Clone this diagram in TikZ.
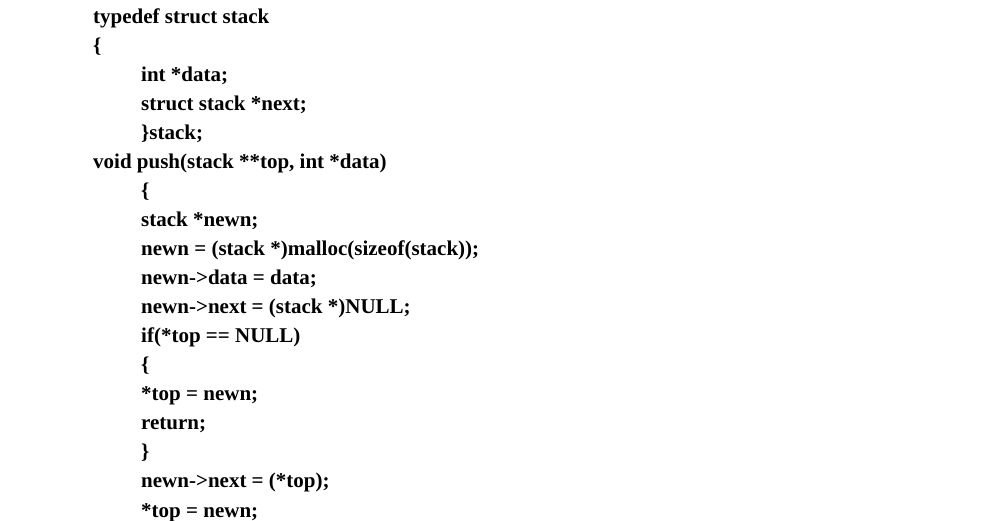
\documentclass[tikz,border=0pt]{standalone}
\usepackage{fontspec}
\setmainfont{Liberation Serif}
\begin{document}
\begin{tikzpicture}[x=1pt,y=-1pt,code/.style={anchor=base west,inner sep=0pt,font=\fontsize{21}{25}\selectfont\bfseries}]
\useasboundingbox (0,0) rectangle (1005,521);
\foreach \t/\x [count=\i from 0] in {
 {typedef struct stack}/93,
 {\{}/93,
 {int *data;}/141,
 {struct stack *next;}/141,
 {\}stack;}/141,
 {void push(stack **top, int *data)}/93,
 {\{}/141,
 {stack *newn;}/141,
 {newn = (stack *)malloc(sizeof(stack));}/141,
 {newn->data = data;}/141,
 {newn->next = (stack *)NULL;}/141,
 {if(*top == NULL)}/141,
 {\{}/141,
 {*top = newn;}/141,
 {return;}/141,
 {\}}/141,
 {newn->next = (*top);}/141,
 {*top = newn;}/141}
 \node[code] (l\i) at (\x,24+29*\i) {\t};
\end{tikzpicture}
\end{document}
